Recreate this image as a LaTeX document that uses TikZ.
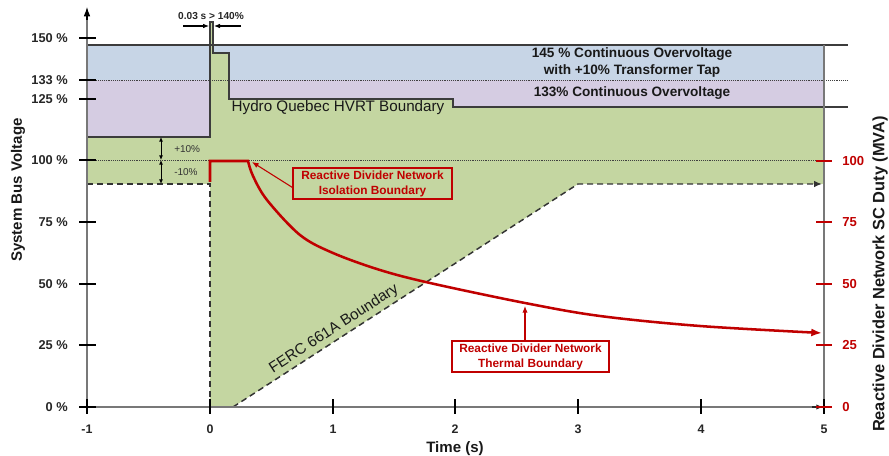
\documentclass[tikz,border=0pt]{standalone}
\usepackage{fontspec}
\setmainfont{Liberation Sans}
\usetikzlibrary{arrows.meta}
\definecolor{bandblue}{RGB}{199,213,230}
\definecolor{bandpurple}{RGB}{213,204,226}
\definecolor{fillgreen}{RGB}{196,214,161}
\definecolor{dred}{RGB}{192,0,0}
\definecolor{bline}{RGB}{60,60,60}
\definecolor{axgray}{RGB}{120,120,120}
\tikzset{
  bandline/.style={draw=bline, line width=0.9pt, line join=miter},
  dotline/.style={draw=black!75, line width=0.6pt, dash pattern=on 0.6pt off 0.8pt},
  dashline/.style={draw=black!80, line width=1.1pt, dash pattern=on 4.5pt off 3pt},
  redcurve/.style={draw=dred, line width=1.9pt, line join=miter},
  tickmark/.style={draw=black, line width=1.4pt},
  redtick/.style={draw=dred, line width=1.4pt},
  axisline/.style={draw=axgray, line width=0.8pt},
  ylab/.style={font=\fontsize{9.6pt}{11pt}\selectfont\bfseries, text=black!85, anchor=east, inner sep=0pt},
  xlab/.style={font=\fontsize{9.3pt}{11pt}\selectfont\bfseries, text=black!85, inner sep=0pt},
  rlab/.style={font=\fontsize{9.8pt}{11pt}\selectfont\bfseries, text=dred, anchor=west, inner sep=0pt},
  axtitle/.style={font=\fontsize{11.3pt}{13pt}\selectfont\bfseries, text=black!90, inner sep=0pt},
  bandtext/.style={font=\fontsize{10.2pt}{12.75pt}\selectfont\bfseries, text=black!90, align=center, inner sep=0pt},
  plaintext/.style={font=\fontsize{11.4pt}{13pt}\selectfont, text=black!90, inner sep=0pt},
  pcttext/.style={font=\fontsize{7.5pt}{9pt}\selectfont, text=black!80, anchor=west, inner sep=0pt},
  redbox/.style={draw=dred, line width=0.8pt, font=\fontsize{8.9pt}{11.25pt}\selectfont\bfseries, text=dred, align=center, inner sep=0pt},
  redarrow/.style={draw=dred, line width=0.8pt, -{Latex[length=5pt,width=4pt]}},
  smallarrow/.style={draw=black, line width=0.8pt, -{Latex[length=4.5pt,width=3.5pt]}},
  dblarrow/.style={draw=black, line width=0.7pt, {Latex[length=3.5pt,width=3pt]}-{Latex[length=3.5pt,width=3pt]}}
}
\begin{document}
\begin{tikzpicture}[x=0.75pt,y=-0.75pt]
\useasboundingbox (0,0) rectangle (889,456);
% bands
\fill[bandblue] (87,45) rectangle (824,80);
\fill[bandpurple] (87,80) rectangle (824,137);
\fill[fillgreen] (87,137) -- (210,137) -- (210,22) -- (213,22) -- (213,53) -- (229,53) -- (229,99) -- (453,99) -- (453,107) -- (824,107) -- (824,184) -- (578,184) -- (233,407) -- (210,407) -- (210,184) -- (87,184) -- cycle;
% boundary lines
\draw[bandline] (87,45) -- (848,45);
\draw[bandline] (87,137) -- (210,137) -- (210,22) -- (213,22) -- (213,53) -- (229,53) -- (229,99) -- (453,99) -- (453,107) -- (848,107);
\draw[dotline] (87,80) -- (848,80);
\draw[dotline] (87,160) -- (824,160);
% dashed FERC boundary
\draw[dashline] (87,184) -- (210,184) -- (210,407);
\draw[dashline, -{Latex[length=6pt,width=5pt]}] (233,407) -- (578,184) -- (822,184);
% axes
\draw[axisline] (87,407) -- (87,14);
\draw[draw=black, line width=0.8pt, -{Latex[length=7pt,width=5pt]}] (87,20) -- (87,7);
\draw[axisline] (87,407) -- (820,407);
\draw[draw=black!85, line width=0.8pt, -{Latex[length=5pt,width=4pt]}] (812,407) -- (823,407);
\draw[axisline] (824,407) -- (824,45);
% left ticks
\foreach \yy/\lab in {38/150 \%, 80/133 \%, 99/125 \%, 160/100 \%, 222/75 \%, 284/50 \%, 345/25 \%, 407/0 \%} {
  \draw[tickmark] (79,\yy) -- (96,\yy);
  \node[ylab] (yl\yy) at (68,\yy) {\lab};
}
% bottom ticks
\foreach \xx/\lab in {87/-1, 210/0, 333/1, 455/2, 578/3, 701/4, 824/5} {
  \draw[tickmark] (\xx,399) -- (\xx,414);
  \node[xlab] (xl\xx) at (\xx,429) {\lab};
}
% right red ticks
\foreach \yy/\lab in {161/100, 222/75, 284/50, 345/25, 407/0} {
  \draw[redtick] (816,\yy) -- (832,\yy);
  \node[rlab] (rl\yy) at (842,\yy) {\lab};
}
% axis titles
\node[axtitle] (xtitle) at (455,449) {Time (s)};
\node[axtitle, rotate=90] (ytitle) at (18,190) {System Bus Voltage};
\node[axtitle, font=\fontsize{12.3pt}{14pt}\selectfont\bfseries, rotate=90] (rtitle) at (880,274) {Reactive Divider Network SC Duty (MVA)};
% +-10% arrows
\coordinate (p110) at (161,137);
\coordinate (p100) at (161,160);
\coordinate (p90) at (161,184);
\draw[dblarrow] (p110) -- (p100);
\draw[dblarrow] (p100) -- (p90);
\node[pcttext] (plus) at (174,149) {+10\%};
\node[pcttext] (minus) at (174,172) {-10\%};
% 0.03 s annotation
\node[font=\fontsize{7.6pt}{9pt}\selectfont\bfseries, text=black!85, inner sep=0pt] (dt) at (211,16) {0.03 s > 140\%};
\coordinate (al) at (183,26);
\coordinate (alt) at (209,26);
\coordinate (ar) at (241,26);
\coordinate (art) at (214,26);
\draw[smallarrow] (al) -- (alt);
\draw[smallarrow] (ar) -- (art);
% band texts
\node[bandtext] (b145) at (632,62.5) {145 \% Continuous Overvoltage\\with +10\% Transformer Tap};
\node[bandtext] (b133) at (632,93) {133\% Continuous Overvoltage};
\node[plaintext] (hvrt) at (338,108) {Hydro Quebec HVRT Boundary};
\node[plaintext, rotate=33] (ferc) at (334,329) {FERC 661A Boundary};
% red curve
\draw[redcurve, -{Latex[length=8pt,width=6pt]}] (210,182) -- (210,161) -- plot[smooth, tension=0.55] coordinates {(248,161) (253,176) (267,200) (300,235) (333,253) (380,270) (430,283) (525,303) (600,316) (700,326) (822,333)};
% red boxes
\node[redbox, minimum width=159*0.75pt, minimum height=31*0.75pt] (iso) at (372.5,183.5) {Reactive Divider Network\\Isolation Boundary};
\coordinate (isotip) at (252,162);
\draw[redarrow] ([yshift=-3pt]iso.west) -- (isotip);
\node[redbox, fill=white, minimum width=157*0.75pt, minimum height=31*0.75pt] (therm) at (530.5,356.5) {Reactive Divider Network\\Thermal Boundary};
\coordinate (thermtip) at (525,306);
\draw[redarrow] (thermtip |- therm.north) -- (thermtip);
\end{tikzpicture}
\end{document}
